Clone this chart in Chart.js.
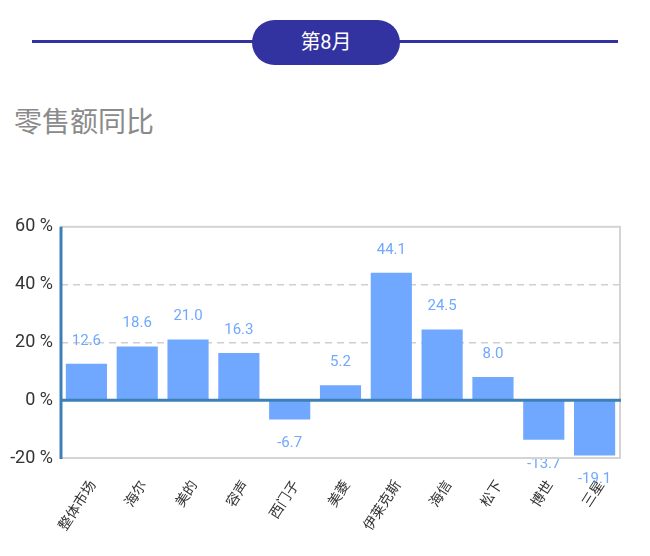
<!DOCTYPE html>
<html lang="zh">
<head>
    <meta charset="UTF-8">
    <title>零售额同比</title>
    <script src="https://cdn.jsdelivr.net/npm/chart.js"></script>
    <style>
        body {
            margin: 0;
            width: 650px;
            height: 556px;
            background: #fff;
            font-family: Roboto, "Noto Sans CJK SC", sans-serif;
            position: relative;
            overflow: hidden;
        }
        .month-line {
            position: absolute;
            left: 32px;
            width: 586px;
            top: 40px;
            height: 3px;
            background: #3232a0;
        }
        .month-pill {
            position: absolute;
            left: 252px;
            top: 20px;
            width: 148px;
            height: 45px;
            border-radius: 23px;
            background: #3232a0;
            color: #fff;
            font-size: 20px;
            line-height: 45px;
            text-align: center;
        }
        .title {
            position: absolute;
            left: 14px;
            top: 100px;
            font-size: 28px;
            color: #8a8a8a;
        }
        .chart-box {
            position: absolute;
            left: 0;
            top: 208px;
            width: 640px;
            height: 334px;
        }
    </style>
</head>
<body>
    <div class="month-line"></div>
    <div class="month-pill">第8月</div>
    <div class="title">零售额同比</div>
    <div class="chart-box"><canvas id="retailChart"></canvas></div>

    <script>
        const brands = ['整体市场', '海尔', '美的', '容声', '西门子', '美菱', '伊莱克斯', '海信', '松下', '博世', '三星'];
        const yoyValues = [12.6, 18.6, 21.0, 16.3, -6.7, 5.2, 44.1, 24.5, 8.0, -13.7, -19.1];
        const yTicks = [-20, 0, 20, 40, 60];

        const barColor = '#70a8ff';
        const axisBlue = '#3d80b8';
        const fontFamily = 'Roboto, "Noto Sans CJK SC", sans-serif';

        // value labels above / below each bar
        const valueLabels = {
            id: 'valueLabels',
            afterDatasetsDraw(chart) {
                const ctx = chart.ctx;
                const meta = chart.getDatasetMeta(0);
                ctx.save();
                ctx.font = '15px ' + fontFamily;
                ctx.fillStyle = barColor;
                ctx.textAlign = 'center';
                ctx.textBaseline = 'middle';
                meta.data.forEach((bar, i) => {
                    const v = yoyValues[i];
                    const y = v >= 0 ? bar.y - 23 : bar.y + 24;
                    ctx.fillText(v.toFixed(1), bar.x, y);
                });
                ctx.restore();
            }
        };

        // plot frame, zero line and left axis line
        const frameLines = {
            id: 'frameLines',
            afterDatasetsDraw(chart) {
                const ctx = chart.ctx;
                const a = chart.chartArea;
                const y0 = chart.scales.y.getPixelForValue(0);
                ctx.save();
                ctx.strokeStyle = '#d4d4d4';
                ctx.lineWidth = 2;
                ctx.strokeRect(a.left, a.top, a.right - a.left, a.bottom - a.top);
                ctx.strokeStyle = axisBlue;
                ctx.lineWidth = 3;
                ctx.beginPath();
                ctx.moveTo(a.left, y0);
                ctx.lineTo(a.right + 1, y0);
                ctx.moveTo(a.left, a.top);
                ctx.lineTo(a.left, a.bottom + 1);
                ctx.stroke();
                ctx.restore();
            }
        };

        new Chart(document.getElementById('retailChart'), {
            type: 'bar',
            data: {
                labels: brands,
                datasets: [{
                    data: yoyValues,
                    backgroundColor: barColor,
                    categoryPercentage: 0.9,
                    barPercentage: 0.9
                }]
            },
            options: {
                responsive: true,
                maintainAspectRatio: false,
                animation: false,
                layout: { padding: { top: 0, right: 20, left: 6 } },
                plugins: {
                    legend: { display: false },
                    tooltip: { enabled: false }
                },
                scales: {
                    x: {
                        afterFit(axis) {
                            axis.height = 84;
                        },
                        grid: { display: false },
                        border: { display: false },
                        ticks: {
                            color: '#333',
                            font: { size: 14, family: fontFamily },
                            minRotation: 57,
                            maxRotation: 57,
                            autoSkip: false,
                            labelOffset: 7,
                            padding: 12
                        }
                    },
                    y: {
                        min: -20,
                        max: 60,
                        afterBuildTicks(axis) {
                            axis.ticks = yTicks.map(v => ({ value: v }));
                        },
                        afterFit(axis) {
                            axis.width = 55;
                        },
                        grid: {
                            color: ctx => (ctx.tick && (ctx.tick.value === 20 || ctx.tick.value === 40)) ? '#cfcfcf' : 'rgba(0,0,0,0)',
                            lineWidth: 1.5,
                            drawTicks: false
                        },
                        border: { display: false, dash: [7, 5] },
                        ticks: {
                            color: '#333',
                            font: { size: 18, family: fontFamily },
                            padding: 8,
                            callback: v => v + ' %'
                        }
                    }
                }
            },
            plugins: [valueLabels, frameLines]
        });
    </script>
</body>
</html>
